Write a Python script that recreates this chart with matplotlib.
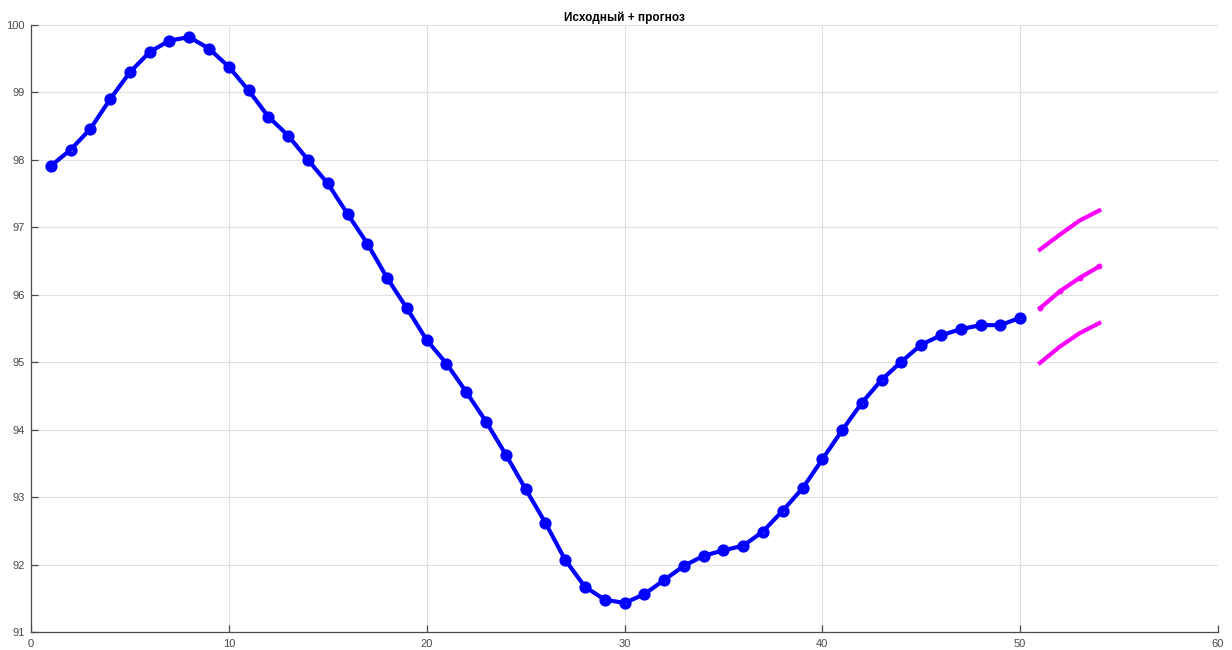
import matplotlib
matplotlib.use('Agg')
import matplotlib.pyplot as plt
import numpy as np

plt.rcParams['font.family'] = ['Liberation Sans', 'DejaVu Sans']

# исходный ряд
t = np.arange(1, 51)
y = [97.91, 98.15, 98.46, 98.90, 99.30, 99.60, 99.77, 99.82, 99.65, 99.38,
     99.03, 98.64, 98.36, 98.00, 97.65, 97.20, 96.76, 96.25, 95.80, 95.33,
     94.98, 94.56, 94.12, 93.63, 93.12, 92.62, 92.07, 91.67, 91.48, 91.43,
     91.56, 91.77, 91.98, 92.13, 92.21, 92.28, 92.49, 92.80, 93.13, 93.56,
     93.99, 94.40, 94.74, 95.01, 95.26, 95.40, 95.49, 95.55, 95.55, 95.66]

# прогноз и границы интервала
tf = np.arange(51, 55)
yf = [95.80, 96.05, 96.25, 96.42]
yup = [96.67, 96.89, 97.10, 97.25]
ylo = [94.99, 95.23, 95.43, 95.58]

fig = plt.figure(figsize=(12.32, 6.5), dpi=100)
ax = fig.add_axes([31/1232, 18/650, 1187/1232, 607/650])

ax.plot(t, y, '-o', color='#0000ff', lw=3, ms=5.4, mew=3.4, mfc='none', mec='#0000ff')
ax.plot(tf, yf, '-o', color='#ff00ff', lw=3, ms=3.2, mfc='#ff00ff', mec='#ff00ff')
ax.plot(tf, yup, '-', color='#ff00ff', lw=3)
ax.plot(tf, ylo, '-', color='#ff00ff', lw=3)

ax.set_xlim(0, 60)
ax.set_ylim(91, 100)
ax.set_xticks(np.arange(0, 61, 10))
ax.set_yticks(np.arange(91, 101, 1))
ax.grid(True, color='#dfdfdf', lw=0.8)
ax.set_axisbelow(True)
for s in ['top', 'right']:
    ax.spines[s].set_visible(False)
for s in ['left', 'bottom']:
    ax.spines[s].set_color('#4a4a4a')
    ax.spines[s].set_linewidth(0.9)
ax.tick_params(direction='in', length=5, width=0.9, colors='#4a4a4a', labelsize=8)
ax.tick_params(axis='x', pad=5)
ax.tick_params(axis='y', pad=4.5)
ax.set_title('Исходный + прогноз', fontsize=8.5, fontweight='bold', pad=3)

fig.savefig('out.png', dpi=100)
